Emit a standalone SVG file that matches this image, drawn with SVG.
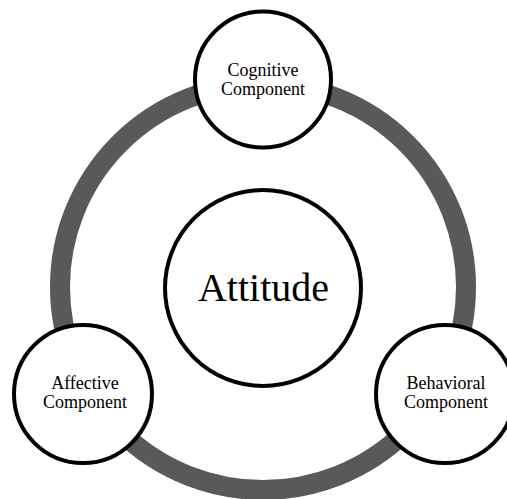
<svg xmlns="http://www.w3.org/2000/svg" width="507" height="499" viewBox="0 0 507 499">
<style>
.node{fill:#fff;stroke:#000;stroke-width:4}
.lbl{font-family:"Liberation Serif","Times New Roman",serif;font-size:18px;fill:#000;text-anchor:middle}
.big{font-family:"Liberation Serif","Times New Roman",serif;font-size:40px;fill:#000;text-anchor:middle}
</style>
<rect width="507" height="499" fill="#fff"/>
<g id="connectors">
<circle cx="263" cy="287" r="203" fill="none" stroke="#595959" stroke-width="20"/>
</g>
<g id="attitude">
<circle class="node" cx="263" cy="288" r="98"/>
<text class="big" x="263.5" y="300.5">Attitude</text>
</g>
<g id="cognitive">
<circle class="node" cx="263" cy="79.5" r="68"/>
<text class="lbl" x="263" y="76">Cognitive</text>
<text class="lbl" x="263" y="95">Component</text>
</g>
<g id="affective">
<circle class="node" cx="83" cy="394" r="69"/>
<text class="lbl" x="85" y="389">Affective</text>
<text class="lbl" x="85" y="408">Component</text>
</g>
<g id="behavioral">
<circle class="node" cx="445" cy="394" r="69"/>
<text class="lbl" x="446" y="389">Behavioral</text>
<text class="lbl" x="446" y="408">Component</text>
</g>
</svg>
